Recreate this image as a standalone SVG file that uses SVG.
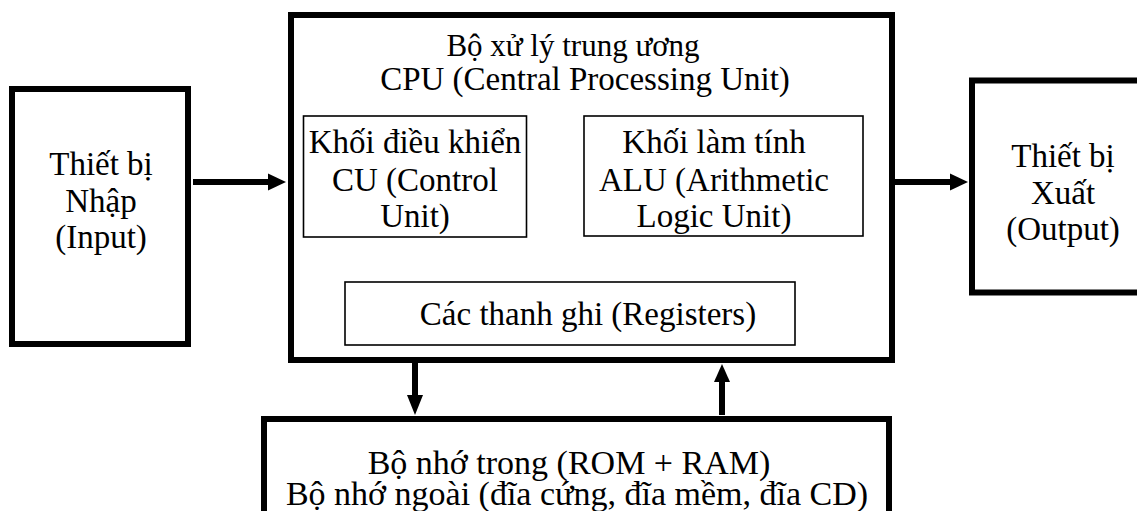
<svg xmlns="http://www.w3.org/2000/svg" width="1137" height="511" viewBox="0 0 1137 511">
  <style>
    text { font-family: "Liberation Serif", "Times New Roman", serif; fill: #000; text-anchor: middle; font-size: 33px; }
    .title { font-size: 31px; }
    .mem { font-size: 34px; }
    .thick { fill: #fff; stroke: #000; stroke-width: 6; }
    .thin { fill: #fff; stroke: #000; stroke-width: 1.6; }
    .shaft { stroke: #000; stroke-width: 6; fill: none; }
    .head { fill: #000; }
  </style>

  <rect width="1137" height="511" fill="#fff"/>

  <!-- input device -->
  <g id="input">
    <rect class="thick" x="12" y="89" width="176" height="255"/>
    <text x="101" y="175">Thiết bị</text>
    <text x="101" y="212">Nhập</text>
    <text x="101" y="248">(Input)</text>
  </g>

  <!-- central processing unit -->
  <g id="cpu">
    <rect class="thick" x="291" y="15" width="601" height="345"/>
    <text class="title" x="573" y="56">Bộ xử lý trung ương</text>
    <text x="585" y="90">CPU (Central Processing Unit)</text>
  </g>

  <g id="cu">
    <rect class="thin" x="303.5" y="116" width="223" height="121"/>
    <text x="415" y="153">Khối điều khiển</text>
    <text x="415" y="191">CU (Control</text>
    <text x="415" y="227">Unit)</text>
  </g>

  <g id="alu">
    <rect class="thin" x="584" y="116" width="279" height="120"/>
    <text x="714" y="153">Khối làm tính</text>
    <text x="714" y="191">ALU (Arithmetic</text>
    <text x="714" y="227">Logic Unit)</text>
  </g>

  <g id="registers">
    <rect class="thin" x="345" y="282" width="450" height="63"/>
    <text x="588" y="325">Các thanh ghi (Registers)</text>
  </g>

  <!-- output device -->
  <g id="output">
    <rect class="thick" x="972" y="80.5" width="180" height="212"/>
    <text x="1063" y="167">Thiết bị</text>
    <text x="1063" y="204">Xuất</text>
    <text x="1063" y="240">(Output)</text>
  </g>

  <!-- memory -->
  <g id="memory">
    <rect class="thick" x="264" y="419" width="625" height="120"/>
    <text class="mem" x="569" y="474">Bộ nhớ trong (ROM + RAM)</text>
    <text class="mem" x="577" y="505">Bộ nhớ ngoài (đĩa cứng, đĩa mềm, đĩa CD)</text>
  </g>

  <!-- connectors -->
  <g id="connectors">
    <line class="shaft" x1="193" y1="182" x2="270" y2="182"/>
    <polygon class="head" points="268,173.5 286,182 268,190.5"/>

    <line class="shaft" x1="895" y1="182" x2="952" y2="182"/>
    <polygon class="head" points="950,173.5 968,182 950,190.5"/>

    <line class="shaft" x1="415" y1="363" x2="415" y2="397"/>
    <polygon class="head" points="407,395 423,395 415,415"/>

    <line class="shaft" x1="722" y1="415" x2="722" y2="380"/>
    <polygon class="head" points="714,382 730,382 722,364"/>
  </g>
</svg>
